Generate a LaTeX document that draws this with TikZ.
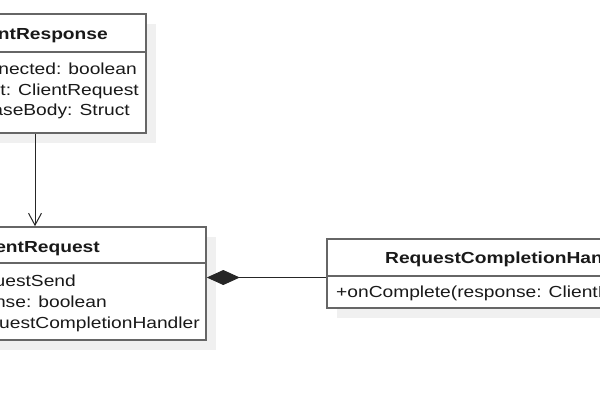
\documentclass[tikz,border=0pt]{standalone}
\usepackage{fontspec}
\setmainfont{Liberation Sans}[FakeStretch=1.2]
\usetikzlibrary{arrows.meta,shadows}
\definecolor{border}{HTML}{666666}
\definecolor{shade}{HTML}{F0F0F0}
\begin{document}
\begin{tikzpicture}[x=1pt,y=-1pt,
  cls/.style={draw=border, line width=1.6pt, fill=white, inner sep=0pt,
    drop shadow={shadow xshift=10pt, shadow yshift=-10pt, fill=shade, opacity=1}},
  txt/.style={inner sep=0pt, font=\fontsize{16}{20}\selectfont, text=black!90},
  hd/.style={txt, font=\fontsize{16}{20}\selectfont\bfseries},
  sep/.style={draw=border, line width=1.6pt},
  link/.style={draw=black!85, line width=1pt}]
\useasboundingbox (0,0) rectangle (600,400);
\clip (0,0) rectangle (600,400);
% class boxes
\node[cls, minimum width=222pt, minimum height=119pt] (b1) at (35,73.5) {};
\node[cls, minimum width=342pt, minimum height=113pt] (b2) at (35,283.5) {};
\node[cls, minimum width=393pt, minimum height=69pt] (b3) at (523.5,273.5) {};
% header separators
\draw[sep] (b1.west |- 0,52) -- (b1.east |- 0,52);
\draw[sep] (b2.west |- 0,263) -- (b2.east |- 0,263);
\draw[sep] (b3.west |- 0,276) -- (b3.east |- 0,276);
% texts
\node[hd, anchor=base east] (h1) at (108,39) {ntResponse};
\node[txt, anchor=base east] (a11) at (137,74) {nected: boolean};
\node[txt, anchor=base east] (a12) at (139,95) {st: ClientRequest};
\node[txt, anchor=base east] (a13) at (130,115) {aseBody: Struct};
\node[hd, anchor=base east] (h2) at (100,252) {entRequest};
\node[txt, anchor=base east] (a21) at (76,286) {uestSend};
\node[txt, anchor=base east] (a22) at (107,307) {nse: boolean};
\node[txt, anchor=base east] (a23) at (200,328) {questCompletionHandler};
\node[hd, anchor=base west] (h3) at (385,263) {RequestCompletionHan};
\node[txt, anchor=base west] (a31) at (336,297) {+onComplete(response: ClientR};
% connectors
\draw[link, -{Straight Barb[length=12pt,width=13pt]}] (b1.south) -- (b2.north);
\draw[link, {Diamond[length=33pt,width=15pt]}-] (b2.east |- 0,277.5) -- (b3.west |- 0,277.5);
\end{tikzpicture}
\end{document}
